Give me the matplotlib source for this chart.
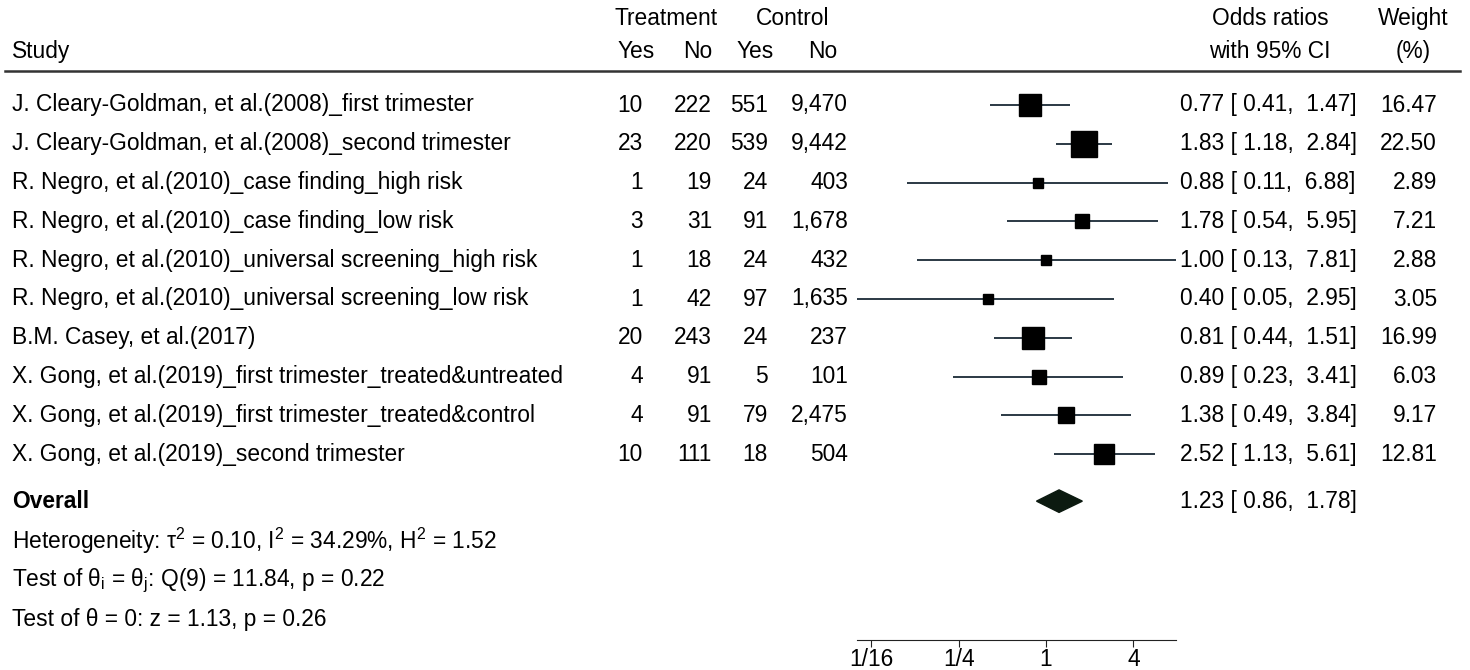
import numpy as np
import matplotlib
matplotlib.use("Agg")
from matplotlib import pyplot as plt
from matplotlib.ticker import FixedLocator, NullLocator

plt.rcParams['font.family'] = ['Liberation Sans', 'DejaVu Sans']
plt.rcParams['mathtext.fontset'] = 'custom'
plt.rcParams['mathtext.rm'] = 'Liberation Sans'

studies = [
    'J. Cleary-Goldman, et al.(2008)_first trimester',
    'J. Cleary-Goldman, et al.(2008)_second trimester',
    'R. Negro, et al.(2010)_case finding_high risk',
    'R. Negro, et al.(2010)_case finding_low risk',
    'R. Negro, et al.(2010)_universal screening_high risk',
    'R. Negro, et al.(2010)_universal screening_low risk',
    'B.M. Casey, et al.(2017)',
    'X. Gong, et al.(2019)_first trimester_treated&untreated',
    'X. Gong, et al.(2019)_first trimester_treated&control',
    'X. Gong, et al.(2019)_second trimester',
]
t_yes = [10, 23, 1, 3, 1, 1, 20, 4, 4, 10]
t_no = [222, 220, 19, 31, 18, 42, 243, 91, 91, 111]
c_yes = [551, 539, 24, 91, 24, 97, 24, 5, 79, 18]
c_no = [9470, 9442, 403, 1678, 432, 1635, 237, 101, 2475, 504]
odds = [0.77, 1.83, 0.88, 1.78, 1.00, 0.40, 0.81, 0.89, 1.38, 2.52]
ci_lo = [0.41, 1.18, 0.11, 0.54, 0.13, 0.05, 0.44, 0.23, 0.49, 1.13]
ci_hi = [1.47, 2.84, 6.88, 5.95, 7.81, 2.95, 1.51, 3.41, 3.84, 5.61]
weight = [16.47, 22.50, 2.89, 7.21, 2.88, 3.05, 16.99, 6.03, 9.17, 12.81]
overall = (1.23, 0.86, 1.78)
stats_lines = [
    r'Heterogeneity: τ$^{\mathregular{2}}$ = 0.10, I$^{\mathregular{2}}$ = 34.29%, H$^{\mathregular{2}}$ = 1.52',
    r'Test of θ$_{\mathregular{i}}$ = θ$_{\mathregular{j}}$: Q(9) = 11.84, p = 0.22',
    'Test of θ = 0: z = 1.13, p = 0.26',
]
tick_vals = [1 / 16, 1 / 4, 1, 4]
tick_labels = ['1/16', '1/4', '1', '4']

W, H = 1470, 670
fs = 16.4
row0, step = 105, 38.8
rows = np.arange(len(studies))
y_overall = 10.21
y_stats = [11.24, 12.27, 13.25]

fig = plt.figure(figsize=(W / 100, H / 100), dpi=100)

# text layer, x in pixels, y in row units
tx = fig.add_axes([0, 0, 1, 1])
tx.set_xlim(0, W)
tx.set_ylim((H - row0) / step, -row0 / step)
tx.axis('off')

def fmt(n):
    return f'{n:,}'

tx.text(12, -1.37, 'Study', fontsize=fs, va='center')
tx.text(666, -2.22, 'Treatment', fontsize=fs, va='center', ha='center')
tx.text(793, -2.22, 'Control', fontsize=fs, va='center', ha='center')
for xh, lab in zip([636, 698, 755, 823], ['Yes', 'No', 'Yes', 'No']):
    tx.text(xh, -1.37, lab, fontsize=fs, va='center', ha='center')
tx.text(1270, -2.22, 'Odds ratios', fontsize=fs, va='center', ha='center')
tx.text(1270, -1.37, 'with 95% CI', fontsize=fs, va='center', ha='center')
tx.text(1413, -2.22, 'Weight', fontsize=fs, va='center', ha='center')
tx.text(1413, -1.37, '(%)', fontsize=fs, va='center', ha='center')
tx.plot([5, 1460], [-0.876, -0.876], color='#333333', lw=1.8)

for i in rows:
    tx.text(12, i, studies[i], fontsize=fs, va='center')
    tx.text(643, i, fmt(t_yes[i]), fontsize=fs, va='center', ha='right')
    tx.text(712, i, fmt(t_no[i]), fontsize=fs, va='center', ha='right')
    tx.text(768, i, fmt(c_yes[i]), fontsize=fs, va='center', ha='right')
    tx.text(848, i, fmt(c_no[i]), fontsize=fs, va='center', ha='right')
    tx.text(1180, i, f'{odds[i]:.2f} [{ci_lo[i]:5.2f}, {ci_hi[i]:5.2f}]',
            fontsize=fs, va='center')
    tx.text(1437, i, f'{weight[i]:.2f}', fontsize=fs, va='center', ha='right')

tx.text(12, y_overall, 'Overall', fontsize=fs, va='center', fontweight='bold')
tx.text(1180, y_overall,
        f'{overall[0]:.2f} [{overall[1]:5.2f}, {overall[2]:5.2f}]',
        fontsize=fs, va='center')
for yy, s in zip(y_stats, stats_lines):
    tx.text(12, yy, s, fontsize=fs, va='center')

# forest panel, log scale
px0, px1, ptop, pbot = 850, 1185, 80, 640
ax = fig.add_axes([px0 / W, 1 - pbot / H, (px1 - px0) / W, (pbot - ptop) / H])
ax.set_xscale('log', base=2)
c1, k = 1046, 43.7
ax.set_xlim(2 ** ((px0 - c1) / k), 2 ** ((px1 - c1) / k))
ax.set_ylim((pbot - row0) / step, (ptop - row0) / step)
ax.patch.set_alpha(0)
for sp in ['top', 'left', 'right']:
    ax.spines[sp].set_visible(False)
ax.spines['bottom'].set_bounds(min(ci_lo), max(ci_hi))
ax.spines['bottom'].set_color('#222222')
ax.xaxis.set_major_locator(FixedLocator(tick_vals))
ax.xaxis.set_minor_locator(NullLocator())
ax.set_xticklabels(tick_labels, fontsize=fs)
ax.tick_params(axis='x', length=5, color='#222222', pad=1)
ax.set_yticks([])

ax.hlines(rows, ci_lo, ci_hi, color='#1a2a36', lw=1.3)
for i in rows:
    ax.plot(odds[i], i, marker='s', color='black',
            markersize=3.96 * np.sqrt(weight[i]), linestyle='none')

lo_d, hi_d = np.log2(overall[1]), np.log2(overall[2])
mid = np.log2(overall[0])
dx = 2 ** np.array([lo_d, mid, hi_d, mid])
dy = y_overall + np.array([0, -0.29, 0, 0.29])
ax.fill(dx, dy, color='#0c1a10')

fig.savefig('out.png', dpi=100)
